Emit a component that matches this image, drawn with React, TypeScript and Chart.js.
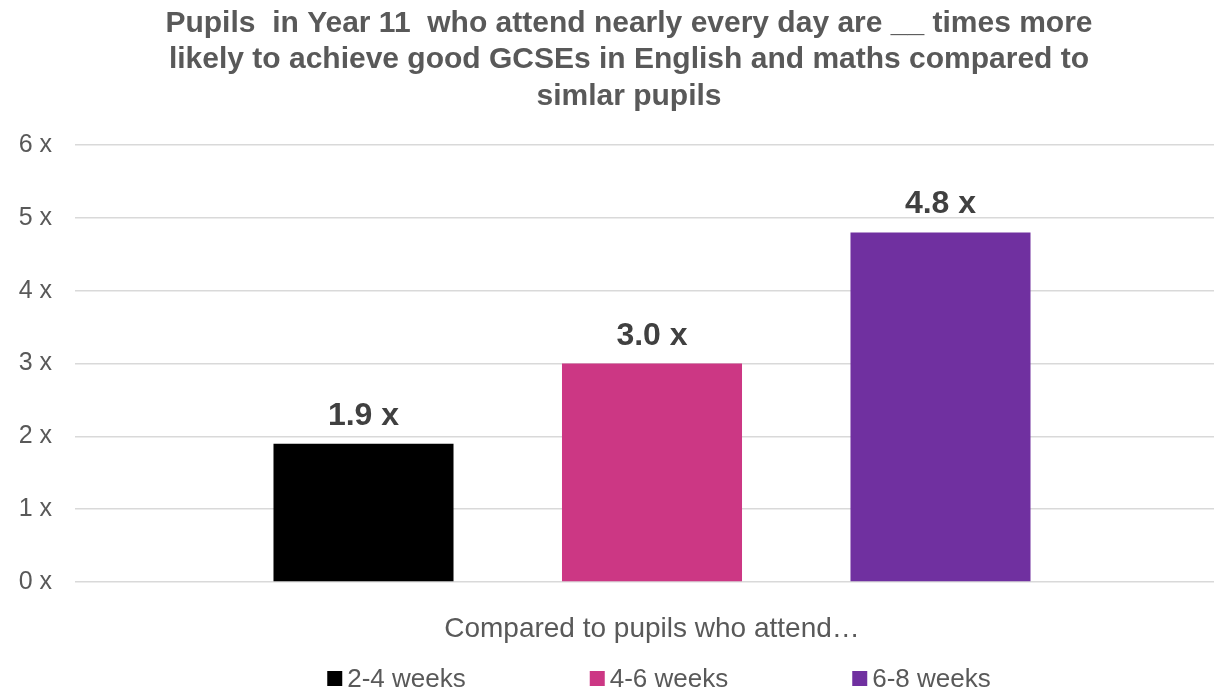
import React, { useEffect, useRef } from "react";
import { Chart, registerables } from "chart.js";

Chart.register(...registerables);

const categories = [""];
const seriesLabels = ["2-4 weeks", "4-6 weeks", "6-8 weeks"];
const series24 = [1.9];
const series46 = [3.0];
const series68 = [4.8];
const seriesColors = ["#000000", "#cc3784", "#7030a0"];
const yTickValues = [0, 1, 2, 3, 4, 5, 6];
const titleLines = [
  "Pupils  in Year 11  who attend nearly every day are __ times more",
  "likely to achieve good GCSEs in English and maths compared to",
  "simlar pupils",
];
const xAxisTitle = "Compared to pupils who attend…";

const FONT = "'Liberation Sans', Arial, Helvetica, sans-serif";
const GREY = "#595959";

const valueLabelPlugin = {
  id: "valueLabels",
  afterDatasetsDraw(chart: any) {
    const ctx = chart.ctx;
    ctx.save();
    ctx.font = `bold 32px ${FONT}`;
    ctx.fillStyle = "#404040";
    ctx.textAlign = "center";
    ctx.textBaseline = "alphabetic";
    chart.data.datasets.forEach((ds: any, i: number) => {
      const meta = chart.getDatasetMeta(i);
      meta.data.forEach((el: any, j: number) => {
        const v = ds.data[j] as number;
        ctx.fillText(`${v.toFixed(1)} x`, el.x, el.y - 19);
      });
    });
    ctx.restore();
  },
};

const legendPlugin = {
  id: "bottomLegend",
  afterDraw(chart: any) {
    const ctx = chart.ctx;
    ctx.save();
    ctx.font = `26px ${FONT}`;
    const box = 15;
    const textGap = 5;
    const itemGap = 124;
    const datasets = chart.data.datasets;
    const widths = datasets.map(
      (ds: any) => box + textGap + ctx.measureText(ds.label).width
    );
    const total =
      widths.reduce((a: number, b: number) => a + b, 0) +
      itemGap * (widths.length - 1);
    const ca = chart.chartArea;
    let x = (ca.left + ca.right) / 2 + 7 - total / 2;
    const yMid = chart.height - 12.5;
    ctx.textAlign = "left";
    ctx.textBaseline = "middle";
    datasets.forEach((ds: any, i: number) => {
      ctx.fillStyle = ds.backgroundColor;
      ctx.fillRect(x, yMid - box / 2, box, box);
      ctx.fillStyle = GREY;
      ctx.fillText(ds.label, x + box + textGap, yMid + 1);
      x += widths[i] + itemGap;
    });
    ctx.restore();
  },
};

export default function App() {
  const canvasRef = useRef<HTMLCanvasElement | null>(null);

  useEffect(() => {
    if (!canvasRef.current) return;
    const values = [series24, series46, series68];
    const chart = new Chart(canvasRef.current, {
      type: "bar",
      data: {
        labels: categories,
        datasets: seriesLabels.map((label, i) => ({
          label,
          data: values[i],
          backgroundColor: seriesColors[i],
          borderWidth: 0,
          categoryPercentage: 0.75,
          barPercentage: 0.624,
        })),
      },
      options: {
        responsive: false,
        animation: false,
        events: [],
        devicePixelRatio: 1,
        layout: { padding: { left: 0, right: 0, top: 0, bottom: 35.2 } },
        plugins: {
          legend: { display: false },
          tooltip: { enabled: false },
          title: {
            display: true,
            text: titleLines,
            color: GREY,
            font: { family: FONT, size: 30, weight: "bold", lineHeight: 1.217 },
            padding: { top: 5, bottom: 30.5 },
          },
        },
        scales: {
          x: {
            grid: { display: false, drawTicks: false },
            border: { display: false },
            ticks: { display: false },
            title: {
              display: true,
              text: xAxisTitle,
              color: GREY,
              font: { family: FONT, size: 28, lineHeight: 1.2 },
              padding: { top: 30.2, bottom: 10 },
            },
          },
          y: {
            min: yTickValues[0],
            max: yTickValues[yTickValues.length - 1],
            afterBuildTicks: (scale: any) => {
              scale.ticks = yTickValues.map((v) => ({ value: v }));
            },
            afterFit: (scale: any) => {
              scale.width = 75;
            },
            grid: { color: "#d9d9d9", lineWidth: 1.5, drawTicks: false },
            border: { display: false },
            ticks: {
              color: GREY,
              padding: 23,
              font: { family: FONT, size: 25 },
              callback: (v: any) => `${v} x`,
            },
          },
          y2: {
            position: "right",
            display: true,
            grid: { display: false, drawTicks: false },
            border: { display: false },
            ticks: { display: false },
            afterFit: (scale: any) => {
              scale.width = 29;
            },
          },
        },
      },
      plugins: [valueLabelPlugin, legendPlugin],
    } as any);
    return () => chart.destroy();
  }, []);

  return (
    <div
      style={{
        position: "fixed",
        left: 0,
        top: 0,
        width: 1214,
        height: 691,
        overflow: "hidden",
        background: "#ffffff",
      }}
    >
      <canvas
        ref={canvasRef}
        width={1258}
        height={691}
        style={{ width: 1258, height: 691, display: "block" }}
      />
    </div>
  );
}
